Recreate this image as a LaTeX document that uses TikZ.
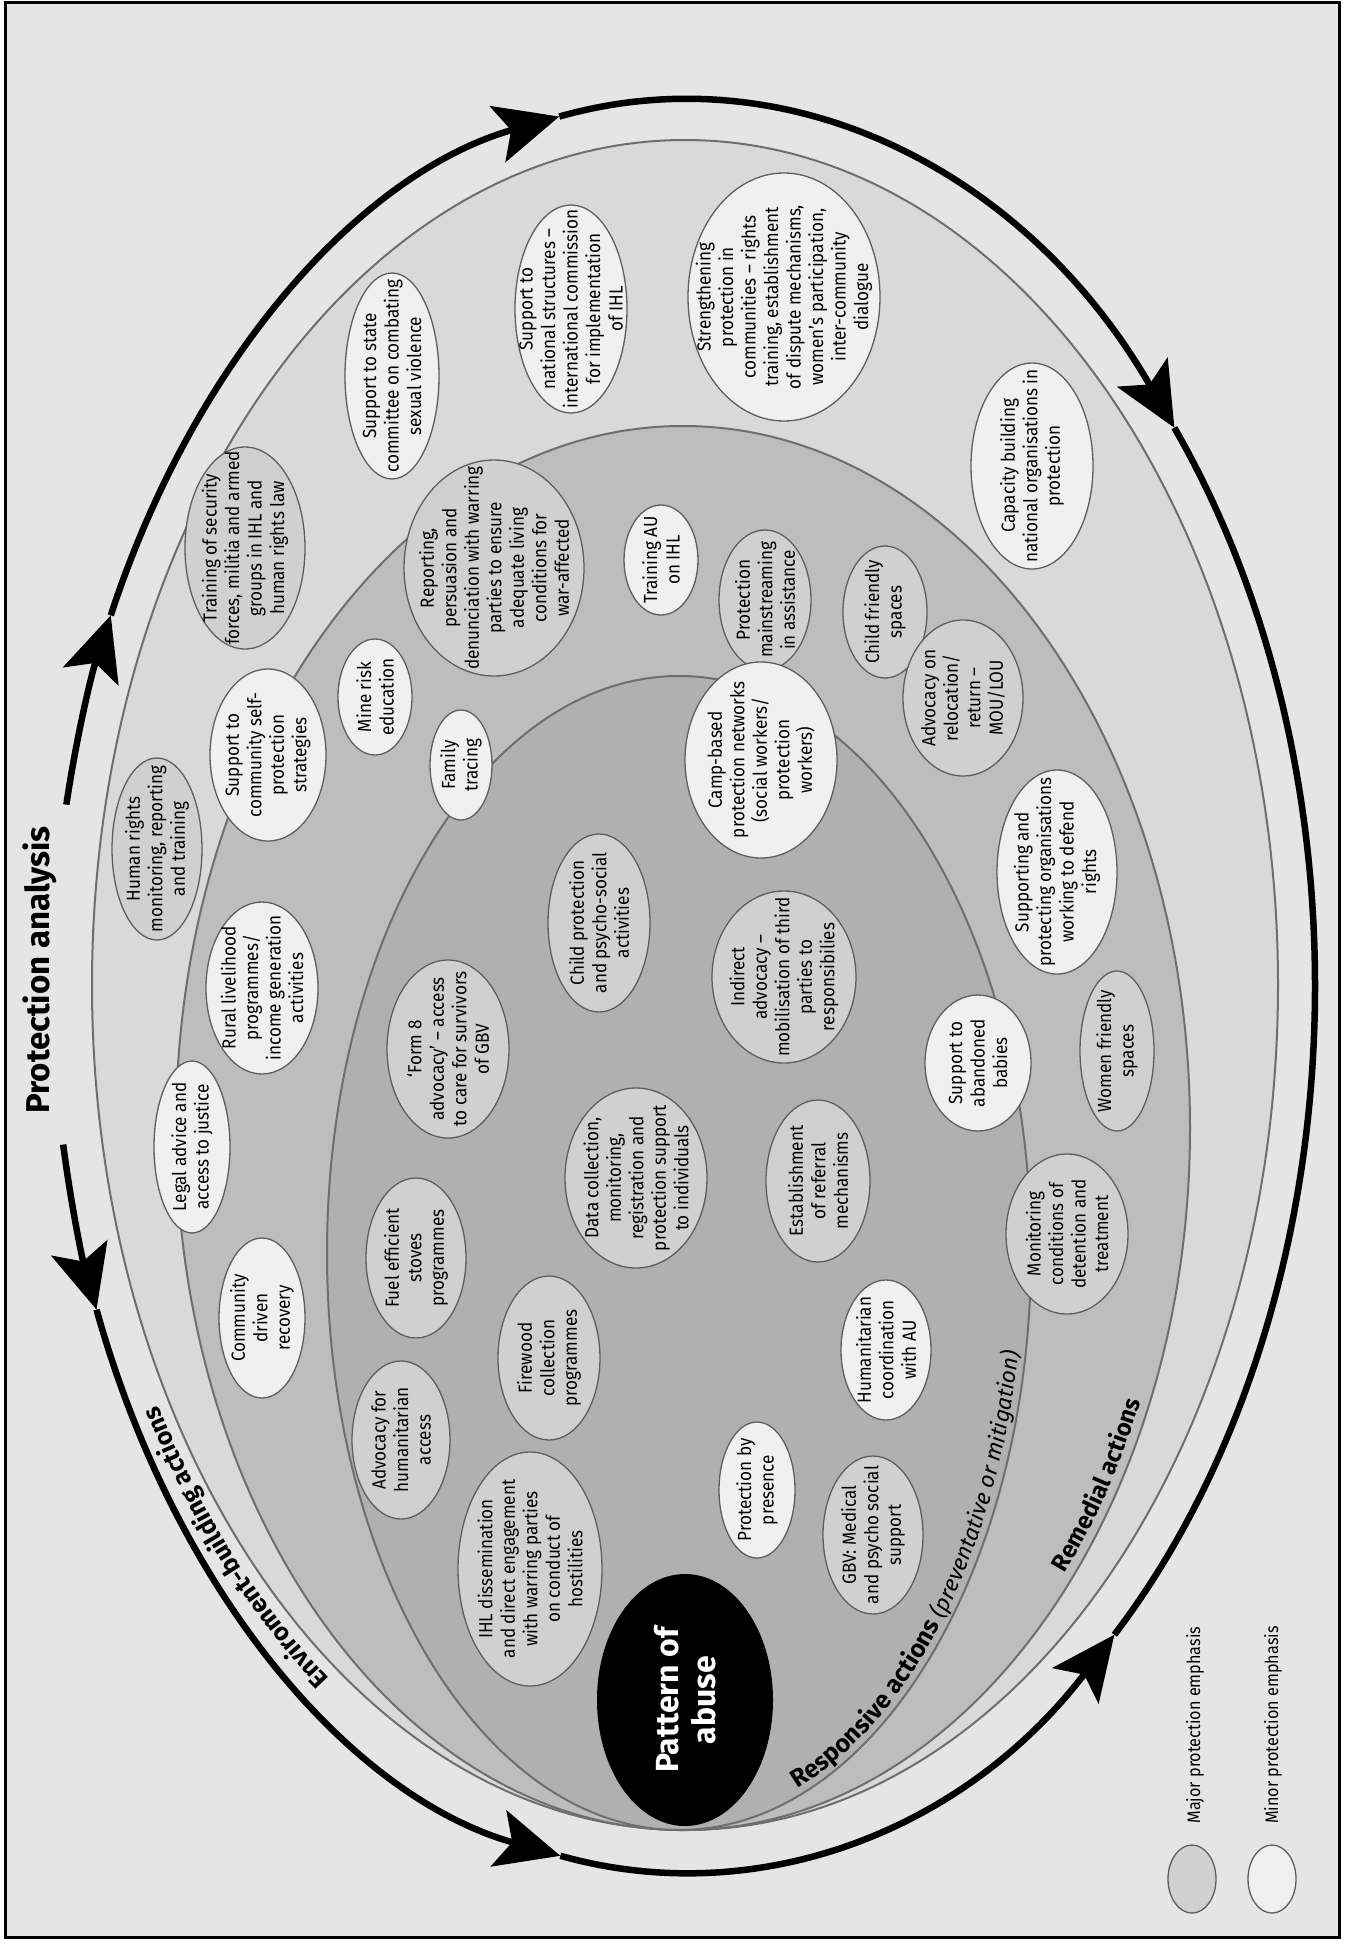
\documentclass[tikz,border=0pt]{standalone}
\usepackage{fontspec}
\setmainfont{Fira Sans}[FakeStretch=0.9]
\newfontfamily\labfont{Fira Sans}
\usetikzlibrary{shapes.geometric,arrows.meta,decorations.text}
\definecolor{bgc}{HTML}{E5E5E5}
\definecolor{ringa}{HTML}{D9D9D9}
\definecolor{ringb}{HTML}{BDBDBD}
\definecolor{ringc}{HTML}{B0B0B0}
\definecolor{majc}{HTML}{D0D0D0}
\definecolor{minc}{HTML}{F0F0F0}
\definecolor{rline}{HTML}{6E6E6E}
\definecolor{bline}{HTML}{5E5E5E}
\newcommand\labB{\labfont\bfseries\fontsize{25}{28}\selectfont}
\newcommand\labR{\labfont\bfseries\fontsize{24}{28}\selectfont}
\newcommand\labI{\labfont\mdseries\itshape\fontsize{22.5}{26}\selectfont}
\newcommand\bub[7]{%
  \node[#2, minimum width={2*#5}, minimum height={2*#6}] (#1) at (#3,#4) {};
  \node[txt] (#1t) at (#1.center) {#7};}
\newcommand\barc[3]{\draw[blk,#3] ({684+631*cos(#1)},{986+887*sin(#1)}) arc[start angle=#1,end angle=#2,x radius=631,y radius=887];}
\begin{document}
\begin{tikzpicture}[x=1pt,y=-1pt,
  bubble/.style={ellipse, draw=bline, line width=1.3pt, inner sep=0pt, outer sep=0pt},
  major/.style={bubble, fill=majc},
  minor/.style={bubble, fill=minc},
  txt/.style={rotate=90, align=center, inner sep=0pt, font=\fontsize{19}{22.5}\selectfont},
  blk/.style={line width=6.5pt, black},
  bigtip/.style={-{Stealth[length=64pt,width=58pt,inset=14pt]}},
  ring/.style={draw=rline, line width=2pt}]
\fill[white] (0,0) rectangle (1348,1943);
\useasboundingbox (0,0) rectangle (1348,1943);
\draw[line width=3pt, fill=bgc] (5,3) rectangle (1339,1937);
% nested rings
\filldraw[ring, fill=ringa] (685,985) ellipse[x radius=593, y radius=845];
\filldraw[ring, fill=ringb] (683,1128) ellipse[x radius=507, y radius=702];
\filldraw[ring, fill=ringc] (679,1253) ellipse[x radius=352, y radius=577];
% outer arrows
\barc{191.8}{204.7}{bigtip}
\barc{204.7}{258.6}{bigtip}
\barc{258.6}{321}{bigtip}
\barc{321}{360}{}
\barc{169.7}{158.6}{bigtip}
\barc{158.6}{101.3}{bigtip}
\barc{101.3}{47}{bigtip}
\barc{47}{0}{}
\node[rotate=90, inner sep=0pt, font=\labfont\bfseries\fontsize{33}{36}\selectfont] (pan) at (40,970) {Protection analysis};
% curved labels
\path[decorate, decoration={text along path, text={|\labB|Enviroment-building actions}}]
  ({684+603*cos(126)},{986+856*sin(126)}) arc[start angle=126, end angle=178, x radius=603, y radius=856];
\path[decorate, decoration={text along path, text={|\labB|Responsive actions |\labI|(preventative or mitigation)}}]
  ({679+345*cos(70)},{1253+570*sin(70)}) arc[start angle=70, end angle=-8, x radius=345, y radius=570];
\path[decorate, decoration={text along path, text={|\labR|Remedial actions}}]
  ({683+498*cos(40)},{1128+693*sin(40)}) arc[start angle=40, end angle=0, x radius=498, y radius=693];
% bubbles
\bub{b1}{major}{245}{548}{60}{101}{Training of security\\forces, militia and armed\\groups in IHL and\\human rights law}
\bub{b2}{minor}{392}{376}{47}{103}{Support to state\\committee on combating\\sexual violence}
\bub{b3}{minor}{571}{309}{56}{104}{Support to\\national structures –\\international commission\\for implementation\\of IHL}
\bub{b4}{minor}{784}{297}{96}{124}{Strengthening\\protection in\\communities – rights\\training, establishment\\of dispute mechanisms,\\women’s participation,\\inter-community\\dialogue}
\bub{b5}{minor}{1032}{466}{61}{103}{Capacity building\\national organisations in\\protection}
\bub{b6}{major}{157}{849}{45}{91}{Human rights\\monitoring, reporting\\and training}
\bub{b7}{minor}{192}{1147}{38}{86}{Legal advice and\\access to justice}
\bub{b8}{minor}{262}{1318}{43}{80}{Community\\driven\\recovery}
\bub{b9}{major}{494}{568}{90}{108}{Reporting,\\persuasion and\\denunciation with warring\\parties to ensure\\adequate living\\conditions for\\war-affected}
\bub{b10}{minor}{375}{697}{37}{58}{Mine risk\\education}
\bub{b11}{minor}{268}{755}{58}{86}{Support to\\community self-\\protection\\strategies}
\bub{b12}{minor}{661}{560}{37}{55}{Training AU\\on IHL}
\bub{b13}{major}{765}{600}{46}{70}{Protection\\mainstreaming\\in assistance}
\bub{b14}{major}{885}{612}{42}{66}{Child friendly\\spaces}
\bub{b15}{major}{963}{698}{60}{78}{Advocacy on\\relocation/\\return –\\MOU/LOU}
\bub{b16}{minor}{1057}{872}{60}{102}{Supporting and\\protecting organisations\\working to defend\\rights}
\bub{b17}{major}{1117}{1051}{37}{80}{Women friendly\\spaces}
\bub{b18}{minor}{978}{1063}{53}{68}{Support to\\abandoned\\babies}
\bub{b19}{major}{1067}{1234}{61}{80}{Monitoring\\conditions of\\detention and\\treatment}
\bub{b20}{minor}{262}{988}{56}{86}{Rural livelihood\\programmes/\\income generation\\activities}
\bub{b21}{major}{401}{1440}{49}{79}{Advocacy for\\humanitarian\\access}
\bub{b22}{minor}{461}{765}{31}{55}{Family\\tracing}
\bub{b23}{minor}{761}{760}{76}{98}{Camp-based\\protection networks\\(social workers/\\protection\\workers)}
\bub{b24}{major}{599}{923}{51}{89}{Child protection\\and psycho-social\\activities}
\bub{b25}{major}{784}{977}{72}{86}{Indirect\\advocacy –\\mobilisation of third\\parties to\\responsibilies}
\bub{b26}{major}{448}{1049}{61}{89}{‘Form 8\\advocacy’ – access\\to care for survivors\\of GBV}
\bub{b27}{major}{636}{1178}{71}{90}{Data collection,\\monitoring,\\registration and\\protection support\\to individuals}
\bub{b28}{major}{818}{1181}{52}{81}{Establishment\\of referral\\mechanisms}
\bub{b29}{major}{416}{1258}{50}{80}{Fuel efficient\\stoves\\programmes}
\bub{b30}{major}{549}{1358}{51}{82}{Firewood\\collection\\programmes}
\bub{b31}{minor}{886}{1350}{45}{70}{Humanitarian\\coordination\\with AU}
\bub{b32}{major}{530}{1569}{72}{117}{IHL dissemination\\and direct engagement\\with warring parties\\on conduct of\\hostilities}
\bub{b33}{minor}{757}{1490}{38}{68}{Protection by\\presence}
\bub{b34}{major}{873}{1535}{50}{79}{GBV: Medical\\and psycho social\\support}
% pattern of abuse
\node[ellipse, fill=black, inner sep=0pt, minimum width=176pt, minimum height=252pt] (pa) at (685,1700) {};
\node[rotate=90, align=center, text=white, inner sep=0pt, font=\labfont\bfseries\fontsize{32}{37}\selectfont] (pat) at (pa.center) {Pattern of\\abuse};
% legend
\node[major, minimum width=48pt, minimum height=68pt] (lgmaj) at (1192,1879) {};
\node[minor, minimum width=48pt, minimum height=68pt] (lgmin) at (1272,1879) {};
\node[txt, font=\fontsize{18}{20}\selectfont] (lgmajt) at (1195,1725) {Major protection emphasis};
\node[txt, font=\fontsize{18}{20}\selectfont] (lgmint) at (1273,1725) {Minor protection emphasis};
\end{tikzpicture}
\end{document}
